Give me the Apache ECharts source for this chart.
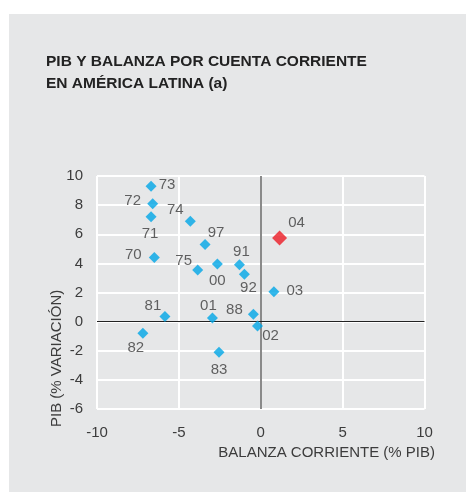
<!DOCTYPE html>
<html>
<head>
<meta charset="utf-8">
<script src="https://cdn.jsdelivr.net/npm/echarts@6/dist/echarts.min.js"></script>
<style>
  html, body { margin: 0; padding: 0; background: #ffffff; }
  #wrap { position: relative; width: 466px; height: 492px; }
  #panel { position: absolute; left: 9px; top: 14px; right: 0; bottom: 0; background: #e6e7e8; }
  #main { position: absolute; left: 0; top: 0; width: 466px; height: 492px; }
</style>
</head>
<body>
<div id="wrap">
  <div id="panel"></div>
  <div id="main"></div>
</div>
<script>
var myChart = echarts.init(document.getElementById('main'));

// años (etiquetas) y valores: balanza corriente (% PIB), PIB (% variación)
var years = ['73', '72', '71', '74', '97', '70', '75', '00', '91', '92', '81', '01', '88', '02', '82', '83', '03', '04'];
var balanza = [-6.7, -6.6, -6.7, -4.3, -3.4, -6.5, -3.85, -2.65, -1.3, -1.0, -5.85, -2.95, -0.45, -0.2, -7.2, -2.55, 0.8, 1.15];
var pib = [9.3, 8.1, 7.2, 6.9, 5.3, 4.4, 3.55, 3.95, 3.9, 3.25, 0.35, 0.25, 0.5, -0.3, -0.8, -2.1, 2.05, 5.75];
var highlightYear = '04';

var xTicks = [-10, -5, 0, 5, 10];
var yTicks = [-6, -4, -2, 0, 2, 4, 6, 8, 10];

// desplazamiento de cada etiqueta respecto a su punto (px)
var labelOffsets = {
    '73': [16, -1], '72': [-20, -3], '71': [-1, 17], '74': [-15, -11],
    '97': [11, -12], '70': [-21, -3], '75': [-14, -9], '00': [0, 17],
    '91': [2, -13], '92': [4, 14], '81': [-12, -11], '01': [-4, -12],
    '88': [-19, -4], '02': [13, 10], '82': [-7, 15], '83': [0, 18],
    '03': [21, -1], '04': [17, -15]
};

var points = years.map(function (y, i) {
    var isRed = y === highlightYear;
    return {
        name: y,
        value: [balanza[i], pib[i]],
        symbolSize: isRed ? 15 : 11,
        itemStyle: { color: isRed ? '#ec1c24' : '#00a6e6' },
        label: { offset: labelOffsets[y] }
    };
});

var labelFont = {
    color: '#3c3c3c',
    fontSize: 15,
    fontFamily: 'Liberation Sans, Arial, sans-serif'
};

var option = {
    animation: false,
    title: {
        text: 'PIB Y BALANZA POR CUENTA CORRIENTE\nEN AMÉRICA LATINA (a)',
        left: 46,
        top: 51,
        padding: 0,
        textStyle: {
            color: '#222222',
            fontSize: 15.5,
            fontWeight: 'bold',
            lineHeight: 22,
            fontFamily: 'Liberation Sans, Arial, sans-serif'
        }
    },
    grid: {
        left: 97,
        right: 41.5,
        top: 176,
        bottom: 83
    },
    xAxis: {
        type: 'value',
        min: xTicks[0],
        max: xTicks[xTicks.length - 1],
        interval: 5,
        axisLine: { show: false, onZero: false },
        axisTick: { show: false },
        axisLabel: Object.assign({ margin: 16 }, labelFont),
        splitLine: { show: true, lineStyle: { color: '#ffffff', width: 2 } }
    },
    yAxis: {
        type: 'value',
        min: yTicks[0],
        max: yTicks[yTicks.length - 1],
        interval: 2,
        axisLine: { show: false, onZero: false },
        axisTick: { show: false },
        axisLabel: Object.assign({ margin: 14 }, labelFont),
        splitLine: { show: true, lineStyle: { color: '#ffffff', width: 2 } }
    },
    graphic: [
        {
            type: 'text',
            right: 31,
            top: 445,
            style: {
                text: 'BALANZA CORRIENTE (% PIB)',
                fill: '#3c3c3c',
                fontSize: 15,
                fontFamily: 'Liberation Sans, Arial, sans-serif'
            }
        },
        {
            type: 'text',
            x: 56.5,
            y: 427,
            rotation: Math.PI / 2,
            style: {
                text: 'PIB (% VARIACIÓN)',
                fill: '#3c3c3c',
                fontSize: 15,
                fontFamily: 'Liberation Sans, Arial, sans-serif',
                align: 'left',
                verticalAlign: 'middle'
            }
        }
    ],
    series: [
        {
            type: 'scatter',
            symbol: 'diamond',
            data: points,
            label: Object.assign({
                show: true,
                position: 'inside',
                align: 'center',
                verticalAlign: 'middle',
                formatter: '{b}'
            }, labelFont),
            markLine: {
                silent: true,
                symbol: 'none',
                label: { show: false },
                z: 1,
                data: [
                    { xAxis: 0, lineStyle: { color: '#8a8a8a', width: 2, type: 'solid' } },
                    { yAxis: 0, lineStyle: { color: '#222222', width: 1, type: 'solid' } }
                ]
            }
        }
    ]
};

myChart.setOption(option);
</script>
</body>
</html>
